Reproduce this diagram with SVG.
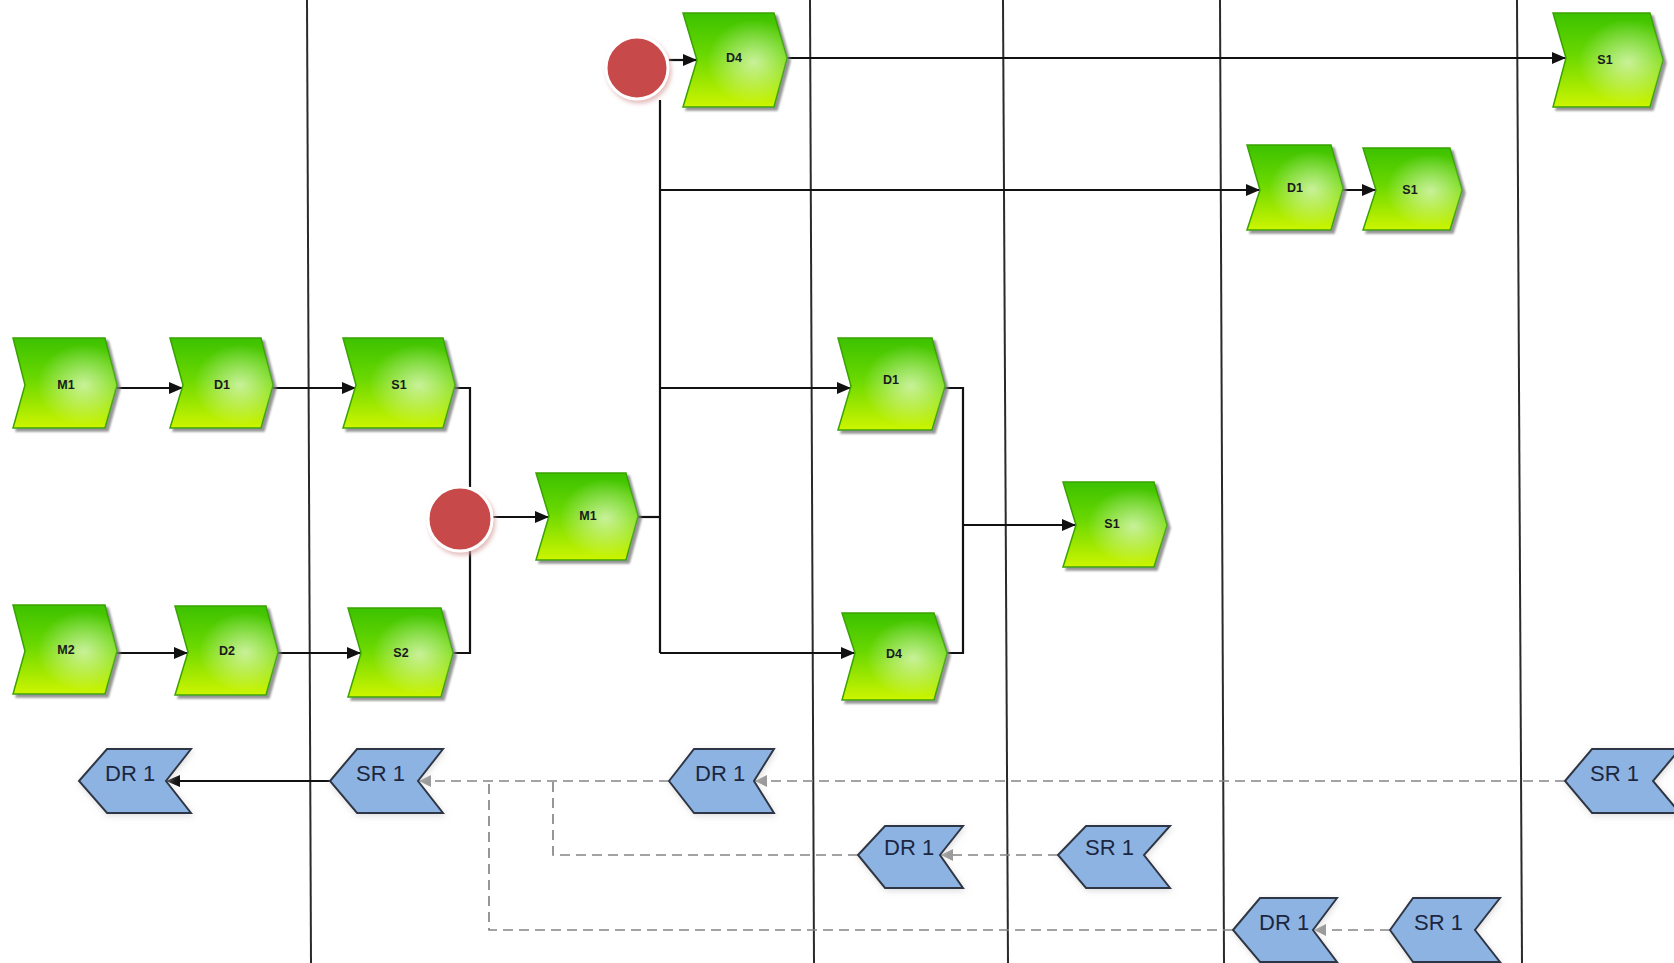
<svg xmlns="http://www.w3.org/2000/svg" width="1674" height="963" viewBox="0 0 1674 963">
<style>
.lane{stroke:#2a2a2a;stroke-width:2;fill:none}
.con{stroke:#111;stroke-width:2.2;fill:none}
.arr{marker-end:url(#ab)}
.dash{stroke:#858585;stroke-width:1.7;fill:none;stroke-dasharray:10 6}
.darr{marker-end:url(#ag)}
.g{fill:url(#gg);stroke:#3aa300;stroke-width:1.5;filter:url(#sh)}
.gl{fill:url(#hl);stroke:none}
.gt{font-family:"Liberation Sans",Arial,sans-serif;font-size:12.5px;font-weight:bold;fill:#1a1a1a;text-anchor:middle}
.b{fill:#8db3e2;stroke:#2e3644;stroke-width:2;filter:url(#sb)}
.bt{font-family:"Liberation Sans",Arial,sans-serif;font-size:22px;fill:#1c2640}
.ev{fill:#c84a48;stroke:#fff;stroke-width:3;filter:url(#sr)}
</style>
<defs>
<linearGradient id="gg" x1="0" y1="0" x2="0" y2="1">
<stop offset="0" stop-color="#3cc200"/>
<stop offset="0.45" stop-color="#6ad800"/>
<stop offset="1" stop-color="#cdf500"/>
</linearGradient>
<radialGradient id="hl" cx="0.68" cy="0.52" r="0.45">
<stop offset="0" stop-color="#ffffff" stop-opacity="0.6"/>
<stop offset="1" stop-color="#ffffff" stop-opacity="0"/>
</radialGradient>
<filter id="sh" x="-10%" y="-10%" width="125%" height="125%">
<feDropShadow dx="3" dy="3" stdDeviation="0.8" flood-color="#7a7a7a" flood-opacity="0.8"/>
</filter>
<filter id="sb" x="-10%" y="-10%" width="125%" height="130%">
<feDropShadow dx="1" dy="2" stdDeviation="3" flood-color="#bbb" flood-opacity="0.5"/>
</filter>
<filter id="sr" x="-20%" y="-20%" width="150%" height="150%">
<feDropShadow dx="2" dy="3" stdDeviation="2" flood-color="#d9a0a0" flood-opacity="0.7"/>
</filter>
<marker id="ab" markerUnits="userSpaceOnUse" markerWidth="14" markerHeight="12" refX="14" refY="6" orient="auto">
<path d="M0,0 L14,6 L0,12 Z" fill="#111"/>
</marker>
<marker id="ag" markerUnits="userSpaceOnUse" markerWidth="12" markerHeight="12" refX="12" refY="6" orient="auto">
<path d="M0,0 L12,6 L0,12 Z" fill="#9a9a9a"/>
</marker>
</defs>

<g id="lanes">
<line class="lane" x1="307" y1="0" x2="311" y2="963"/>
<line class="lane" x1="810" y1="0" x2="814" y2="963"/>
<line class="lane" x1="1003" y1="0" x2="1008" y2="963"/>
<line class="lane" x1="1220" y1="0" x2="1224" y2="963"/>
<line class="lane" x1="1517" y1="0" x2="1522" y2="963"/>
</g>

<g id="connectors">
<path class="con arr" d="M117,388 H183"/>
<path class="con arr" d="M273,388 H356"/>
<path class="con" d="M455,388 H470 V487"/>
<path class="con" d="M453,653 H470 V551"/>
<path class="con arr" d="M117,653 H188"/>
<path class="con arr" d="M278,653 H361"/>
<path class="con arr" d="M492,517 H549"/>
<path class="con" d="M638,517 H660"/>
<path class="con arr" d="M669,60 H697"/>
<path class="con" d="M660,100 V653"/>
<path class="con arr" d="M660,190 H1260"/>
<path class="con arr" d="M660,388 H851"/>
<path class="con arr" d="M660,653 H855"/>
<path class="con arr" d="M787,58 H1566"/>
<path class="con arr" d="M1343,190 H1376"/>
<path class="con" d="M945,388 H963 V653 H947"/>
<path class="con arr" d="M963,525 H1076"/>
<path class="con arr" d="M330,781 H166"/>
<path class="dash darr" d="M1565,781 H755"/>
<path class="dash darr" d="M669,781 H419"/>
<path class="dash darr" d="M1058,855 H941"/>
<path class="dash" d="M858,855 H553 V781"/>
<path class="dash darr" d="M1390,930 H1314"/>
<path class="dash" d="M1233,930 H489 V781"/>
</g>

<g id="ev1"><circle class="ev" cx="637" cy="68" r="31"/></g>
<g id="ev2"><circle class="ev" cx="460" cy="519" r="32"/></g>

<g id="n-m1a"><path class="g" d="M13,338 H105 L117,385 L105,428 H13 L25,385 Z"/><path class="gl" d="M13,338 H105 L117,385 L105,428 H13 L25,385 Z"/><text class="gt" x="66" y="389">M1</text></g>
<g id="n-d1a"><path class="g" d="M170,338 H261 L273,385 L261,428 H170 L183,385 Z"/><path class="gl" d="M170,338 H261 L273,385 L261,428 H170 L183,385 Z"/><text class="gt" x="222" y="389">D1</text></g>
<g id="n-s1a"><path class="g" d="M343,338 H443 L455,385 L443,428 H343 L356,385 Z"/><path class="gl" d="M343,338 H443 L455,385 L443,428 H343 L356,385 Z"/><text class="gt" x="399" y="389">S1</text></g>
<g id="n-m2"><path class="g" d="M13,605 H105 L117,651 L105,694 H13 L25,651 Z"/><path class="gl" d="M13,605 H105 L117,651 L105,694 H13 L25,651 Z"/><text class="gt" x="66" y="654">M2</text></g>
<g id="n-d2"><path class="g" d="M175,606 H266 L278,652 L266,695 H175 L188,652 Z"/><path class="gl" d="M175,606 H266 L278,652 L266,695 H175 L188,652 Z"/><text class="gt" x="227" y="655">D2</text></g>
<g id="n-s2"><path class="g" d="M348,608 H441 L453,653 L441,697 H348 L361,653 Z"/><path class="gl" d="M348,608 H441 L453,653 L441,697 H348 L361,653 Z"/><text class="gt" x="401" y="657">S2</text></g>
<g id="n-m1b"><path class="g" d="M536,473 H626 L638,516 L626,560 H536 L549,516 Z"/><path class="gl" d="M536,473 H626 L638,516 L626,560 H536 L549,516 Z"/><text class="gt" x="588" y="520">M1</text></g>
<g id="n-d4a"><path class="g" d="M683,13 H774 L787,58 L774,107 H683 L697,60 Z"/><path class="gl" d="M683,13 H774 L787,58 L774,107 H683 L697,60 Z"/><text class="gt" x="734" y="62">D4</text></g>
<g id="n-d1b"><path class="g" d="M838,338 H932 L945,386 L932,430 H838 L851,386 Z"/><path class="gl" d="M838,338 H932 L945,386 L932,430 H838 L851,386 Z"/><text class="gt" x="891" y="384">D1</text></g>
<g id="n-d4b"><path class="g" d="M842,613 H934 L947,653 L934,700 H842 L855,653 Z"/><path class="gl" d="M842,613 H934 L947,653 L934,700 H842 L855,653 Z"/><text class="gt" x="894" y="658">D4</text></g>
<g id="n-s1b"><path class="g" d="M1063,482 H1154 L1167,525 L1154,567 H1063 L1076,525 Z"/><path class="gl" d="M1063,482 H1154 L1167,525 L1154,567 H1063 L1076,525 Z"/><text class="gt" x="1112" y="528">S1</text></g>
<g id="n-d1c"><path class="g" d="M1247,145 H1331 L1343,188 L1331,230 H1247 L1260,190 Z"/><path class="gl" d="M1247,145 H1331 L1343,188 L1331,230 H1247 L1260,190 Z"/><text class="gt" x="1295" y="192">D1</text></g>
<g id="n-s1c"><path class="g" d="M1363,148 H1450 L1462,190 L1450,230 H1363 L1376,190 Z"/><path class="gl" d="M1363,148 H1450 L1462,190 L1450,230 H1363 L1376,190 Z"/><text class="gt" x="1410" y="194">S1</text></g>
<g id="n-s1d"><path class="g" d="M1553,13 H1650 L1663,60 L1650,107 H1553 L1566,58 Z"/><path class="gl" d="M1553,13 H1650 L1663,60 L1650,107 H1553 L1566,58 Z"/><text class="gt" x="1605" y="64">S1</text></g>

<g id="n-dr1a"><path class="b" d="M79,781 L107,749 H191 L166,781 L191,813 H107 Z"/><text class="bt" x="105" y="781">DR 1</text></g>
<g id="n-sr1a"><path class="b" d="M330,781 L357,749 H443 L418,781 L443,813 H357 Z"/><text class="bt" x="356" y="781">SR 1</text></g>
<g id="n-dr1b"><path class="b" d="M669,781 L694,749 H774 L754,781 L774,813 H694 Z"/><text class="bt" x="695" y="781">DR 1</text></g>
<g id="n-sr1b"><path class="b" d="M1565,781 L1592,749 H1680 L1653,781 L1680,813 H1592 Z"/><text class="bt" x="1590" y="781">SR 1</text></g>
<g id="n-dr1c"><path class="b" d="M858,855 L885,826 H963 L940,855 L963,888 H885 Z"/><text class="bt" x="884" y="855">DR 1</text></g>
<g id="n-sr1c"><path class="b" d="M1058,855 L1086,826 H1170 L1144,855 L1170,888 H1086 Z"/><text class="bt" x="1085" y="855">SR 1</text></g>
<g id="n-dr1d"><path class="b" d="M1233,930 L1260,898 H1337 L1313,930 L1337,962 H1260 Z"/><text class="bt" x="1259" y="930">DR 1</text></g>
<g id="n-sr1d"><path class="b" d="M1390,930 L1413,898 H1500 L1475,930 L1500,962 H1413 Z"/><text class="bt" x="1414" y="930">SR 1</text></g>
</svg>
